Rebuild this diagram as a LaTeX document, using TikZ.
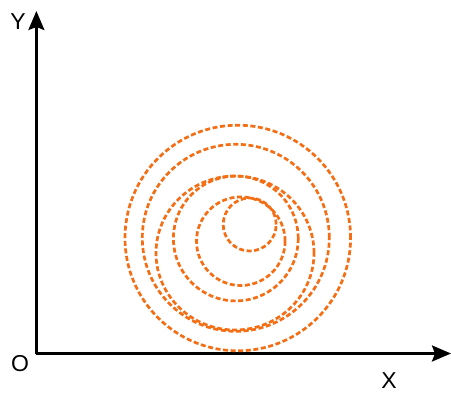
\documentclass[tikz,border=0pt]{standalone}
\usepackage{fontspec}
\setmainfont{Liberation Sans}
\usetikzlibrary{arrows.meta}
\definecolor{ringorange}{RGB}{243,110,20}
\begin{document}
\begin{tikzpicture}[x=1pt,y=-1pt,
  axis/.style={line width=2.6pt,-{Stealth[length=19pt,width=16pt,inset=3pt]}},
  ring/.style={draw=ringorange,line width=2.7pt,dash pattern=on 5pt off 2.6pt},
  lbl/.style={font=\fontsize{23}{23}\selectfont,inner sep=0pt}]
\useasboundingbox (0,0) rectangle (451,392);
\coordinate (O) at (36.4,353.5);
\coordinate (Xend) at (451,353.5);
\coordinate (Yend) at (36.4,11);
\draw[axis] (O) -- (Xend);
\draw[axis] (O) -- (Yend);
\node[lbl] (ylab) at (18,22) {Y};
\node[lbl] (olab) at (20,363.5) {O};
\node[lbl] (xlab) at (389,380.5) {X};
\draw[ring] (237.8,238) circle[radius=112.8pt];
\draw[ring] (235.8,237.8) circle[radius=93.5pt];
\draw[ring] (235,253) circle[x radius=79pt,y radius=77pt];
\draw[ring] (235.8,238.5) circle[radius=62.4pt];
\draw[ring] (240.8,241.2) circle[radius=44.3pt];
\draw[ring] (249.7,224.5) circle[radius=26.5pt];
\end{tikzpicture}
\end{document}
